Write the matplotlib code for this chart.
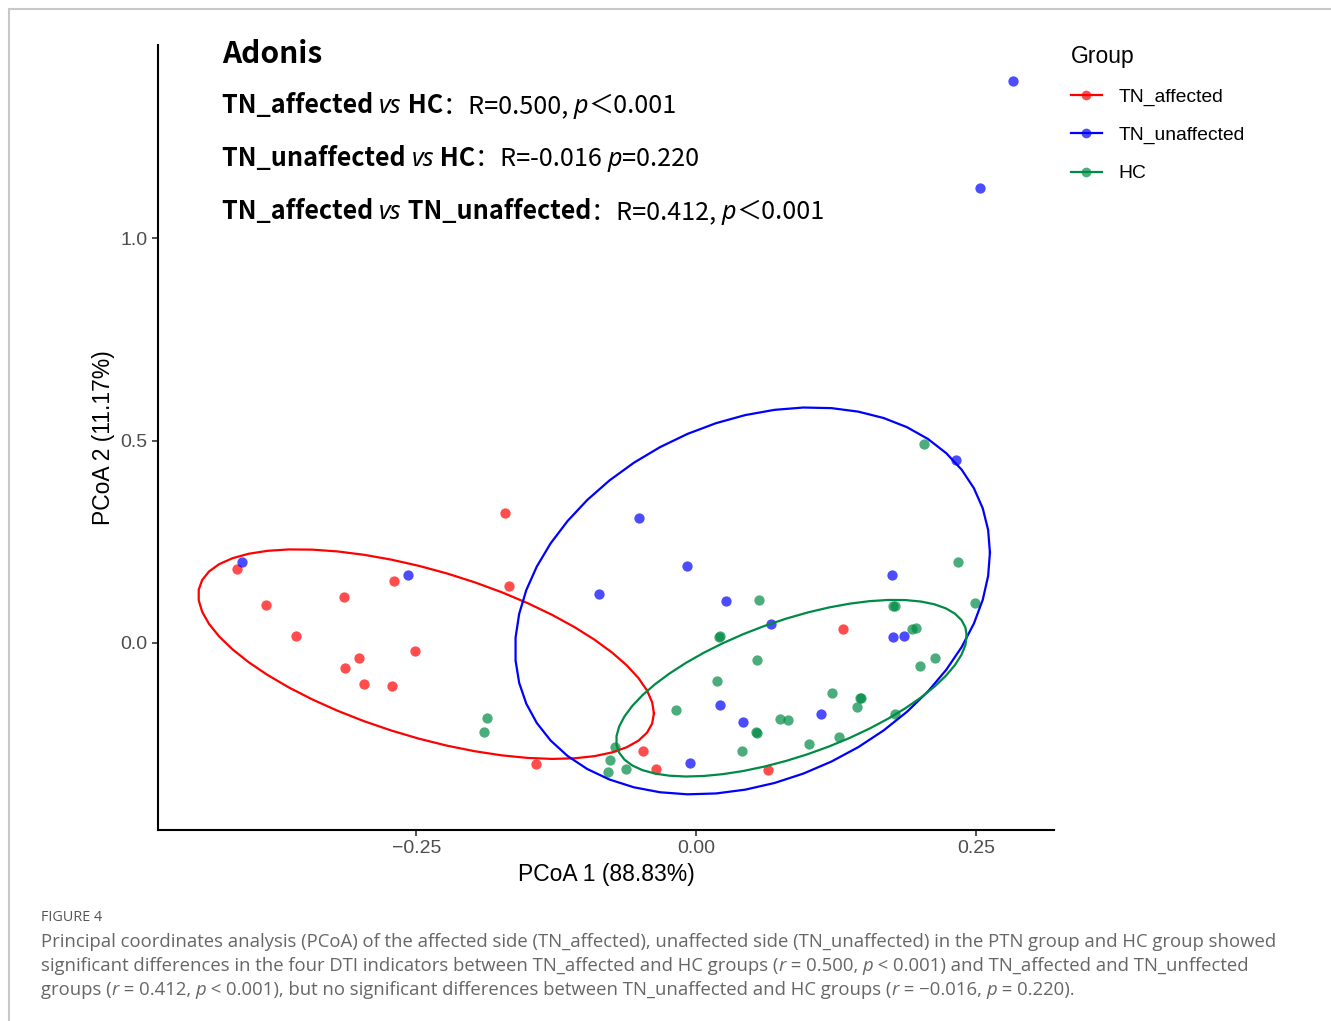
import numpy as np
import matplotlib
matplotlib.use("Agg")
import matplotlib.pyplot as plt
from matplotlib.lines import Line2D
from matplotlib.transforms import IdentityTransform

# ---------------- data ----------------
groups = ["TN_affected", "TN_unaffected", "HC"]
colors = {"TN_affected": "#FF0000", "TN_unaffected": "#0000FF", "HC": "#008B45"}

aff_x = [-0.410, -0.384, -0.358, -0.315, -0.270, -0.301, -0.314, -0.297, -0.272,
         -0.251, -0.171, -0.167, -0.143, -0.048, -0.036, 0.064, 0.131]
aff_y = [0.182, 0.094, 0.017, 0.113, 0.154, -0.037, -0.062, -0.101, -0.106,
         -0.021, 0.320, 0.141, -0.299, -0.268, -0.312, -0.315, 0.034]

unaff_x = [-0.406, -0.258, -0.087, -0.051, -0.008, 0.026, 0.067, 0.232, 0.175,
           0.176, 0.185, 0.021, 0.042, 0.111, -0.006, 0.283, 0.253]
unaff_y = [0.200, 0.167, 0.122, 0.308, 0.191, 0.103, 0.048, 0.453, 0.169,
           0.015, 0.017, -0.154, -0.196, -0.175, -0.296, 1.389, 1.123]

hc_x = [-0.187, -0.190, 0.203, 0.234, 0.249, 0.056, 0.176, 0.177, 0.020, 0.021,
        0.193, 0.196, 0.213, 0.200, 0.054, 0.018, 0.121, 0.146, 0.147, 0.143,
        -0.018, 0.075, 0.082, 0.177, 0.053, 0.054, 0.127, 0.101, 0.041, -0.073,
        -0.077, -0.063, -0.079]
hc_y = [-0.186, -0.221, 0.491, 0.201, 0.098, 0.107, 0.091, 0.092, 0.015, 0.016,
        0.034, 0.036, -0.037, -0.058, -0.041, -0.094, -0.124, -0.135, -0.137, -0.158,
        -0.166, -0.188, -0.191, -0.176, -0.220, -0.222, -0.232, -0.250, -0.268, -0.258,
        -0.289, -0.312, -0.319]

data = {"TN_affected": (aff_x, aff_y), "TN_unaffected": (unaff_x, unaff_y), "HC": (hc_x, hc_y)}

x_label = "PCoA 1 (88.83%)"
y_label = "PCoA 2 (11.17%)"
x_ticks = [-0.25, 0.00, 0.25]
x_ticklabels = ["\u22120.25", "0.00", "0.25"]
y_ticks = [0.0, 0.5, 1.0]
y_ticklabels = ["0.0", "0.5", "1.0"]
ellipse_level = 0.68

# ---------------- ellipse (ggplot2 stat_ellipse, type "t") ----------------
def cov_trob(X, nu=5, maxit=25, tol=0.01):
    n, p = X.shape
    loc = X.mean(axis=0)
    w = np.ones(n)
    Xc = X - loc
    for _ in range(maxit):
        w0 = w
        Xc = X - loc
        A = np.sqrt(w / w.sum())[:, None] * Xc
        _, d, Vt = np.linalg.svd(A, full_matrices=False)
        wX = Xc @ Vt.T @ np.diag(1.0 / d)
        Q = (wX ** 2).sum(axis=1)
        w = (nu + p) / (nu + Q)
        loc = (w[:, None] * X).sum(axis=0) / w.sum()
        if np.all(np.abs(w - w0) < tol):
            break
    sX = np.sqrt(w)[:, None] * Xc
    cov = sX.T @ sX / n
    return cov, loc


def stat_ellipse(x, y, level=0.95, segments=51):
    X = np.column_stack([x, y]).astype(float)
    cov, center = cov_trob(X)
    dfd = X.shape[0] - 1
    qf = dfd / 2.0 * ((1 - level) ** (-2.0 / dfd) - 1)
    radius = np.sqrt(2 * qf)
    ang = np.arange(segments + 1) * 2 * np.pi / segments
    circ = np.column_stack([np.cos(ang), np.sin(ang)])
    L = np.linalg.cholesky(cov)
    e = center + radius * (circ @ L.T)
    return e[:, 0], e[:, 1]

# ---------------- figure ----------------
W, H = 1331, 1021
fig = plt.figure(figsize=(W / 100, H / 100), dpi=100)
fig.patch.set_facecolor("white")

L_, R_, T_, B_ = 158, 1054, 45, 830
ax = fig.add_axes([L_ / W, 1 - B_ / H, (R_ - L_) / W, (B_ - T_) / H])

allx, ally = [], []
ells = {}
for g in groups:
    gx, gy = data[g]
    ax.scatter(gx, gy, s=55, color=colors[g], alpha=0.7, linewidths=0, zorder=2)
    ex, ey = stat_ellipse(gx, gy, level=ellipse_level)
    ells[g] = (ex, ey)
    allx += list(gx) + list(ex)
    ally += list(gy) + list(ey)
for g in groups:
    ex, ey = ells[g]
    ax.plot(ex, ey, color=colors[g], lw=1.6, zorder=3)

xr = max(allx) - min(allx)
yr = max(ally) - min(ally)
ax.set_xlim(min(allx) - 0.05 * xr, max(allx) + 0.05 * xr)
ax.set_ylim(min(ally) - 0.05 * yr, max(ally) + 0.05 * yr)

for s in ["top", "right"]:
    ax.spines[s].set_visible(False)
for s in ["left", "bottom"]:
    ax.spines[s].set_linewidth(1.5)
    ax.spines[s].set_color("black")

ax.set_xticks(x_ticks)
ax.set_xticklabels(x_ticklabels)
ax.set_yticks(y_ticks)
ax.set_yticklabels(y_ticklabels)
ax.tick_params(axis="both", length=4, width=1.2, color="#333333", labelcolor="#4D4D4D",
               labelsize=14, pad=3.5)
for t in ax.get_xticklabels() + ax.get_yticklabels():
    t.set_family("Liberation Sans")

ax.set_xlabel(x_label, fontsize=16.5, family="Liberation Sans", labelpad=4)
ax.set_ylabel(y_label, fontsize=16.5, family="Liberation Sans", labelpad=4)

handles = [Line2D([0], [0], color=colors[g], lw=1.6, marker="o", markersize=7,
                  markerfacecolor=matplotlib.colors.to_rgba(colors[g], 0.7),
                  markeredgewidth=0) for g in groups]
leg = ax.legend(handles, groups, title="Group", loc="upper left",
                bbox_to_anchor=(1071 / W, 1 - 45 / H), bbox_transform=fig.transFigure,
                frameon=False, prop={"family": "Liberation Sans", "size": 13.9},
                title_fontproperties={"family": "Liberation Sans", "size": 16.5},
                alignment="left", handlelength=1.6, handletextpad=0.85,
                labelspacing=1.06, borderaxespad=0, borderpad=0)

# ---------------- annotations ----------------
renderer = fig.canvas.get_renderer()
CJK = ["Noto Sans CJK SC", "DejaVu Sans"]
ITA = ["Noto Sans", "DejaVu Sans"]


def segments(x0, ybase, segs, size, color="black"):
    x = x0
    for txt, weight, style in segs:
        fam = ITA if style == "italic" else CJK
        t = fig.text(x, H - ybase, txt, transform=IdentityTransform(), fontsize=size,
                     fontweight=weight, fontstyle=style, family=fam,
                     ha="left", va="baseline", color=color)
        x = t.get_window_extent(renderer).x1
    return x

fig.text(222, H - 63, "Adonis", transform=IdentityTransform(), fontsize=21.5,
         fontweight="bold", family=CJK, ha="left", va="baseline")

asz = 18.1
segments(222, 113, [("TN_affected ", "bold", "normal"), ("vs", "normal", "italic"),
                    (" HC", "bold", "normal"), ("\uff1aR=0.500, ", "normal", "normal"),
                    ("p", "normal", "italic"), ("\uff1c0.001", "normal", "normal")], asz)
segments(222, 166, [("TN_unaffected ", "bold", "normal"), ("vs", "normal", "italic"),
                    (" HC", "bold", "normal"), ("\uff1aR=-0.016 ", "normal", "normal"),
                    ("p", "normal", "italic"), ("=0.220", "normal", "normal")], asz)
segments(222, 219, [("TN_affected ", "bold", "normal"), ("vs", "normal", "italic"),
                    (" TN_unaffected", "bold", "normal"), ("\uff1aR=0.412, ", "normal", "normal"),
                    ("p", "normal", "italic"), ("\uff1c0.001", "normal", "normal")], asz)

# ---------------- caption ----------------
CAP = ["Open Sans", "DejaVu Sans"]
cap_color = "#666666"
line1 = ("Principal coordinates analysis (PCoA) of the affected side (TN_affected), unaffected "
         "side (TN_unaffected) in the PTN group and HC group showed")
probe = fig.text(0, 0, line1, transform=IdentityTransform(), fontsize=13, family=CAP)
wid = probe.get_window_extent(renderer).width
probe.remove()
csize = 13 * (1270 - 41) / wid

fig.text(41, H - 921, "FIGURE 4", transform=IdentityTransform(), fontsize=csize * 0.78,
         family=CAP, color="#555555", ha="left", va="baseline")


def capline(ybase, segs):
    x = 41
    for txt, style in segs:
        t = fig.text(x, H - ybase, txt, transform=IdentityTransform(), fontsize=csize,
                     fontstyle=style, family=CAP, color=cap_color, ha="left", va="baseline")
        x = t.get_window_extent(renderer).x1

capline(947, [(line1, "normal")])
capline(971, [("significant differences in the four DTI indicators between TN_affected and HC groups (",
               "normal"), ("r", "italic"), (" = 0.500, ", "normal"), ("p", "italic"),
              (" < 0.001) and TN_affected and TN_unffected", "normal")])
capline(995, [("groups (", "normal"), ("r", "italic"), (" = 0.412, ", "normal"), ("p", "italic"),
              (" < 0.001), but no significant differences between TN_unaffected and HC groups (",
               "normal"), ("r", "italic"), (" = \u22120.016, ", "normal"), ("p", "italic"),
              (" = 0.220).", "normal")])

# ---------------- frame ----------------
fig.add_artist(Line2D([8.5, 8.5], [0, H - 8.5], transform=IdentityTransform(),
                      color="#C8C8C8", lw=1.5))
fig.add_artist(Line2D([8.5, W], [H - 8.5, H - 8.5], transform=IdentityTransform(),
                      color="#C8C8C8", lw=1.5))

fig.savefig("out.png", dpi=100)
